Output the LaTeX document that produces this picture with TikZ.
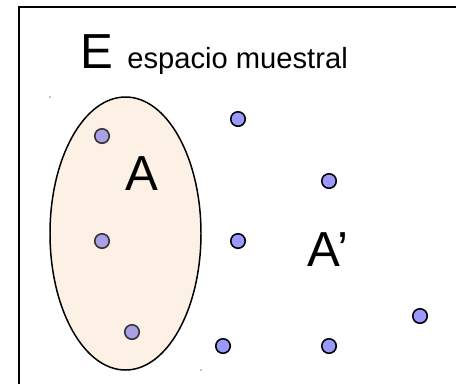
\documentclass[tikz,border=0pt]{standalone}
\usepackage{fontspec}
\setmainfont{Liberation Sans}
\usepackage{xcolor}
\definecolor{setfill}{HTML}{FDF1E6}
\definecolor{inpoint}{HTML}{A9A0E6}
\definecolor{outpoint}{HTML}{9999FF}
\definecolor{pointline}{HTML}{333333}
\usetikzlibrary{positioning}

\begin{document}
\begin{tikzpicture}[
        x={(0.02cm,0)}, y={(0,-0.02cm)},
        in_point/.style={
            circle,
            draw=pointline,
            fill=inpoint,
            line width=0.9pt,
            minimum size=0.29cm,
            inner sep=0pt
        },
        out_point/.style={
            circle,
            draw=black,
            fill=outpoint,
            line width=0.9pt,
            minimum size=0.29cm,
            inner sep=0pt
        },
        big_label/.style={
            font=\fontsize{28pt}{30pt}\selectfont,
            inner sep=0pt
        }
    ]

    % Frame of the sample space (runs off the page on the right and below)
    \clip (0,0) rectangle (456,383);
    \draw[line width=1.1pt] (19,7) rectangle (480,400);

    % Titles
    \node[big_label, anchor=base west] (E) at (80,68) {E};
    \node[font=\fontsize{16.6pt}{18pt}\selectfont, anchor=base west, inner sep=0pt] (espacio) at (127,68) {espacio muestral};

    % The event A
    \draw[fill=setfill, line width=0.85pt] (125.5,233.5) ellipse [x radius=75.5, y radius=136.5];
    \fill (50,97) circle (0.6);
    \fill (201,370) circle (0.6);
    \node[big_label, anchor=base] (A) at (142,190) {A};
    \node[big_label, anchor=base] (Ac) at (328,266) {A’};

    % Points in A
    \node[in_point] (a1) at (102,136) {};
    \node[in_point] (a2) at (102,241) {};
    \node[in_point] (a3) at (132,332) {};

    % Points in A'
    \node[out_point] (b1) at (238,119) {};
    \node[out_point] (b2) at (329,181) {};
    \node[out_point] (b3) at (238,241) {};
    \node[out_point] (b4) at (223,346) {};
    \node[out_point] (b5) at (329,346) {};
    \node[out_point] (b6) at (420,316) {};

\end{tikzpicture}
\end{document}
